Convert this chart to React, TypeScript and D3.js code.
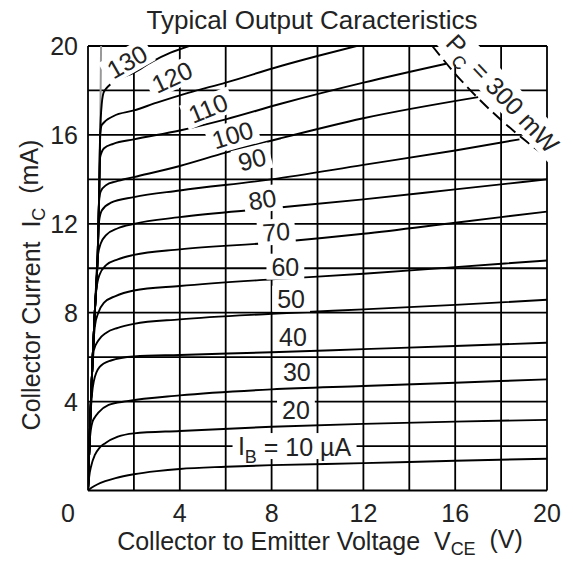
import * as d3 from 'd3';

const W = 573;
const H = 561;

// base current of each curve (µA)
const ibLevels = [10, 20, 30, 40, 50, 60, 70, 80, 90, 100, 110, 120, 130];

// the steep grey rise near V = 0
const riseLine: [number, number][] = [[0, 0], [0.09, 3], [0.2, 5.9], [0.3, 8.1], [0.42, 10.5], [0.48, 13], [0.53, 16], [0.57, 20]];

// Ic (mA) against Vce (V)
const ib10: [number, number][] = [[0, 0], [0.15, 0.12], [0.4, 0.27], [0.75, 0.42], [1.2, 0.56], [2, 0.73], [3, 0.87], [4, 0.97], [6, 1.07], [8, 1.14], [12, 1.23], [16, 1.34], [20, 1.43]];
const ib20: [number, number][] = [[0, 0], [0.05, 0.6], [0.15, 1.15], [0.3, 1.6], [0.5, 1.92], [0.75, 2.13], [1.3, 2.42], [2, 2.57], [4, 2.68], [8, 2.87], [12, 3.0], [16, 3.1], [20, 3.18]];
const ib30: [number, number][] = [[0, 0], [0.06, 2.0], [0.12, 2.7], [0.2, 3.1], [0.3, 3.3], [0.45, 3.5], [0.9, 3.85], [1.7, 4.02], [4, 4.28], [8, 4.55], [12, 4.7], [16, 4.85], [20, 5.0]];
const ib40: [number, number][] = [[0, 0], [0.09, 3], [0.17, 4.3], [0.25, 4.9], [0.5, 5.55], [1, 5.85], [2, 6.03], [4, 6.1], [8, 6.22], [12, 6.36], [16, 6.5], [20, 6.65]];
const ib50: [number, number][] = [[0, 0], [0.09, 3], [0.18, 5.3], [0.25, 6.3], [0.45, 6.75], [0.8, 7.1], [1.3, 7.32], [2, 7.5], [4, 7.7], [8, 7.95], [12, 8.15], [16, 8.35], [20, 8.58]];
const ib60: [number, number][] = [[0, 0], [0.09, 3], [0.2, 5.9], [0.3, 7.4], [0.45, 8.0], [0.7, 8.45], [1.2, 8.75], [2, 9.0], [4, 9.2], [8, 9.5], [12, 9.75], [16, 10.05], [20, 10.35]];
const ib70: [number, number][] = [[0, 0], [0.09, 3], [0.2, 5.9], [0.3, 8.1], [0.36, 9.0], [0.5, 9.7], [0.8, 10.15], [1.3, 10.4], [2, 10.6], [4, 10.85], [8, 11.15], [12, 11.55], [16, 12.05], [20, 12.55]];
const ib80: [number, number][] = [[0, 0], [0.09, 3], [0.2, 5.9], [0.3, 8.1], [0.42, 10.5], [0.55, 11.1], [0.8, 11.5], [1.3, 11.8], [2, 12.0], [4, 12.3], [8, 12.7], [12, 13.1], [16, 13.55], [20, 14.0]];
const ib90: [number, number][] = [[0, 0], [0.09, 3], [0.2, 5.9], [0.3, 8.1], [0.42, 10.5], [0.48, 12.1], [0.6, 12.6], [1, 12.95], [2, 13.2], [4, 13.5], [8, 14.0], [12, 14.65], [16, 15.3], [18.8, 15.8]];
const ib100: [number, number][] = [[0, 0], [0.09, 3], [0.2, 5.9], [0.3, 8.1], [0.42, 10.5], [0.48, 13], [0.55, 13.45], [0.8, 13.75], [1.2, 13.9], [2, 14.1], [4, 14.6], [6, 15.2], [8.4, 15.85], [12, 16.75], [17, 17.7]];
const ib110: [number, number][] = [[0, 0], [0.09, 3], [0.2, 5.9], [0.3, 8.1], [0.42, 10.5], [0.48, 13], [0.53, 15], [0.7, 15.4], [1.1, 15.6], [2, 15.8], [4, 16.2], [6, 16.7], [8.4, 17.4], [12, 18.35], [15.6, 19.2]];
const ib120: [number, number][] = [[0, 0], [0.09, 3], [0.2, 5.9], [0.3, 8.1], [0.42, 10.5], [0.48, 13], [0.53, 16], [0.6, 16.45], [1.1, 16.84], [2, 17.1], [3, 17.45], [4.4, 17.9], [6, 18.35], [8.4, 19.1], [10, 19.55], [11.7, 20]];
const ib130: [number, number][] = [[0, 0], [0.09, 3], [0.2, 5.9], [0.3, 8.1], [0.42, 10.5], [0.48, 13], [0.53, 16], [0.6, 17.4], [0.7, 17.95], [1.25, 18.45], [2, 18.8], [2.8, 19.3], [3.6, 19.7], [4.4, 20]];

const curves = [ib10, ib20, ib30, ib40, ib50, ib60, ib70, ib80, ib90, ib100, ib110, ib120, ib130];

// Pc = 300 mW limit line
const pcLine: [number, number][] = [[15, 20], [16, 18.75], [17, 17.65], [18, 16.67], [19, 15.79], [20, 15]];

const xTicks = [4, 8, 12, 16, 20];
const yTicks = [4, 8, 12, 16, 20];
const gridSteps = [0, 2, 4, 6, 8, 10, 12, 14, 16, 18, 20];

// where each Ib label sits (V, mA, rotation)
const labelSpots: [number, number, number][] = [
  [9.0, 2.0, 0], [9.06, 3.63, 0], [9.1, 5.34, 0], [8.93, 6.91, 0], [8.85, 8.63, 0], [8.6, 10.07, 0],
  [8.2, 11.64, -4], [7.6, 13.1, -9], [7.15, 14.9, -14], [6.3, 16.0, -17], [5.23, 17.2, -22], [3.66, 18.6, -25], [1.7, 19.3, -30],
];

const FONT = '"Liberation Sans", Arial, Helvetica, sans-serif';
const LABEL_FS = 25;

export default function App() {
  const x = d3.scaleLinear().domain([0, 20]).range([88, 547]);
  const y = d3.scaleLinear().domain([0, 20]).range([490.5, 46]);

  const line = d3.line<[number, number]>()
    .x(d => x(d[0]))
    .y(d => y(d[1]))
    .curve(d3.curveMonotoneX);

  const pre = { whiteSpace: 'pre' as const };

  return (
    <svg width={W} height={H} style={{ position: 'absolute', left: 0, top: 0, background: '#fff' }} fontFamily={FONT}>
      <defs>
        <clipPath id="plot">
          <rect x={x(0)} y={y(20)} width={x(20) - x(0)} height={y(0) - y(20)} />
        </clipPath>
      </defs>

      {/* grid, frame included */}
      <g stroke="#000" strokeWidth={1.8}>
        {gridSteps.map(v => (
          <line key={'v' + v} x1={x(v)} x2={x(v)} y1={y(0)} y2={y(20)} />
        ))}
        {gridSteps.map(v => (
          <line key={'h' + v} x1={x(0)} x2={x(20)} y1={y(v)} y2={y(v)} />
        ))}
      </g>

      <g clipPath="url(#plot)" fill="none">
        <path d={line(riseLine) || ''} stroke="#999" strokeWidth={2} />
        {curves.map((c, i) => (
          <path key={ibLevels[i]} d={line(c) || ''} stroke="#000" strokeWidth={1.9} />
        ))}
        <path d={line(pcLine) || ''} stroke="#000" strokeWidth={1.9} strokeDasharray="12,6" />
      </g>

      {/* Ib labels on white patches */}
      <g fontSize={LABEL_FS} textAnchor="middle" fill="#222">
        {labelSpots.map((s, i) => {
          const px = x(s[0]);
          const py = y(s[1]);
          const w = i === 0 ? 124 : String(ibLevels[i]).length * 0.556 * LABEL_FS + 10;
          const h = 26;
          return (
            <g key={i} transform={`rotate(${s[2]},${px},${py})`}>
              <rect x={px - w / 2} y={py - h / 2} width={w} height={h} fill="#fff" />
              <text x={px} y={py} dy="0.36em">
                {i === 0 ? (
                  <>
                    I<tspan fontSize={18} dy="0.45em">B</tspan>
                    <tspan dy="-0.3em"> = 10 µA</tspan>
                  </>
                ) : (
                  ibLevels[i]
                )}
              </text>
            </g>
          );
        })}
      </g>

      {/* Pc label */}
      <g transform="rotate(46.6,503,93)">
        <rect x={503 - 84} y={93 - 15} width={168} height={30} fill="#fff" />
        <text x={503} y={93} dy="0.36em" fontSize={LABEL_FS} textAnchor="middle" fill="#222">
          P<tspan fontSize={18} dy="0.45em">C</tspan>
          <tspan dy="-0.3em"> = 300 mW</tspan>
        </text>
      </g>

      {/* axes text */}
      <g fontSize={25} fill="#222">
        {xTicks.map(t => (
          <text key={'xt' + t} x={x(t)} y={522} textAnchor="middle">{t}</text>
        ))}
        <text x={68} y={522} textAnchor="middle">0</text>
        {yTicks.map(t => (
          <text key={'yt' + t} x={78} y={y(t)} dy="0.36em" textAnchor="end">{t}</text>
        ))}
      </g>

      <text x={312} y={29} fontSize={26} textAnchor="middle" fill="#222">Typical Output Caracteristics</text>

      <text x={320} y={550} fontSize={25} textAnchor="middle" fill="#222" style={pre}>
        {'Collector to Emitter Voltage  V'}<tspan fontSize={18} dy="0.3em">CE</tspan>
        <tspan dy="-0.3em">{'  (V)'}</tspan>
      </text>

      <text transform="translate(40,285) rotate(-90)" fontSize={25} textAnchor="middle" fill="#222" style={pre}>
        {'Collector Current  I'}<tspan fontSize={18} dy="0.3em">C</tspan>
        <tspan dy="-0.3em">{'  (mA)'}</tspan>
      </text>
    </svg>
  );
}
